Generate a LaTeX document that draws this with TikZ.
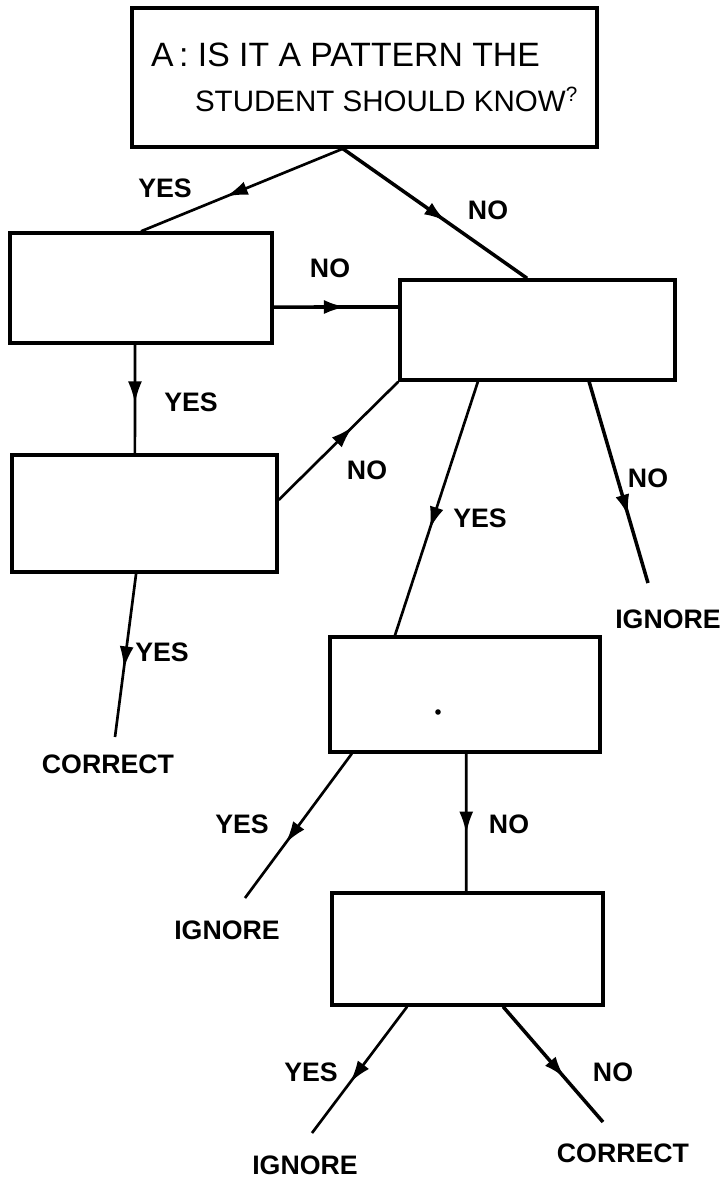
\documentclass[tikz,border=0pt]{standalone}
\usepackage{fontspec}
\setmainfont{Liberation Sans}
\usetikzlibrary{arrows.meta,decorations.markings}

\begin{document}
\begin{tikzpicture}[x=0.025cm, y=-0.025cm, color=black, line width=1.9pt,
      every node/.append style={inner sep=0pt, font=\fontsize{19}{21}\selectfont\bfseries},
      arrowat/.style={postaction={decorate}, decoration={markings,
        mark=at position #1 with {\arrow{Latex[length=5.5mm,width=3.5mm]}}}},
      heavy/.style={line width=2.5pt}]
      \tikzstyle{box} = [draw, rectangle, line width=2.4pt]
      \tikzstyle{answer} = []
      \tikzstyle{outcome} = []
      \useasboundingbox (0,0) rectangle (723,1178);
      \node (Pattern) [box, minimum width=11.625cm, minimum height=3.475cm, align=left,
        font=\fontsize{24}{32}\selectfont] at (364.5,77.5)
        {A\,:\ IS IT A PATTERN THE\\
         \hspace*{1.1cm}{\fontsize{21}{32}\selectfont STUDENT SHOULD KNOW\textsuperscript{?}}};
      \node (PatYes) [box, minimum width=6.55cm, minimum height=2.75cm] at (141,288) {};
      \node (PatNo) [box, minimum width=6.875cm, minimum height=2.5cm] at (537.5,330) {};
      \node (PatYesYes) [box, minimum width=6.625cm, minimum height=2.925cm] at (144.5,513.5) {};
      \node (PatNoYes) [box, minimum width=6.75cm, minimum height=2.875cm] at (465,694.5) {};
      \node (PatNoYesNo) [box, minimum width=6.775cm, minimum height=2.8cm] at (467.5,949) {};
      \node (Speck) [circle, fill, inner sep=1.4pt] at (438,712) {};
      \node (CorrectA) [outcome] at (108,764) {CORRECT};
      \node (IgnoreA) [outcome] at (668,619) {IGNORE};
      \node (IgnoreB) [outcome] at (227,930) {IGNORE};
      \node (IgnoreC) [outcome] at (305,1165) {IGNORE};
      \node (CorrectB) [outcome] at (623,1153) {CORRECT};
      \coordinate (CorrectAEnd) at (115,737);
      \coordinate (IgnoreAEnd) at (648,583);
      \coordinate (IgnoreBEnd) at (245,898);
      \coordinate (IgnoreCEnd) at (312,1133);
      \coordinate (CorrectBEnd) at (603,1122);
      \node (PatYesLbl) [answer] at (165,188) {YES};
      \node (PatNoLbl) [answer] at (488,210) {NO};
      \node (YesNoLbl) [answer] at (330,268) {NO};
      \node (YesYesLbl) [answer] at (191,402) {YES};
      \node (YesYesNoLbl) [answer] at (367,470) {NO};
      \node (NoYesLbl) [answer] at (480,518) {YES};
      \node (NoNoLbl) [answer] at (648,478) {NO};
      \node (YesYesYesLbl) [answer] at (162,652) {YES};
      \node (NoYesYesLbl) [answer] at (242,824) {YES};
      \node (NoYesNoLbl) [answer] at (509,824) {NO};
      \node (NoYesNoYesLbl) [answer] at (311,1072) {YES};
      \node (NoYesNoNoLbl) [answer] at (613,1072) {NO};
      \draw[arrowat=0.58] ([xshift=-0.54cm]Pattern.south) -- (PatYes.north);
      \draw[heavy, arrowat=0.56] ([xshift=-0.54cm]Pattern.south) -- ([xshift=-0.26cm]PatNo.north);
      \draw[heavy, arrowat=0.58] ([yshift=-0.475cm]PatYes.east) -- ([yshift=0.575cm]PatNo.west);
      \draw[arrowat=0.54] ([xshift=-0.15cm]PatYes.south) -- ([xshift=-0.24cm]PatYesYes.north);
      \draw[arrowat=0.62] ([yshift=0.34cm]PatYesYes.east) -- (PatNo.south west);
      \draw[arrowat=0.58] ([xshift=-1.49cm]PatNo.south) -- ([xshift=-1.75cm]PatNoYes.north);
      \draw[heavy, arrowat=0.67] ([xshift=1.29cm]PatNo.south) -- (IgnoreAEnd);
      \draw[arrowat=0.58] ([xshift=-0.21cm]PatYesYes.south) -- (CorrectAEnd);
      \draw[arrowat=0.62] ([xshift=-2.83cm]PatNoYes.south) -- (IgnoreBEnd);
      \draw[arrowat=0.58] ([xshift=0.03cm]PatNoYes.south) -- ([xshift=-0.03cm]PatNoYesNo.north);
      \draw[arrowat=0.6] ([xshift=-1.51cm]PatNoYesNo.south) -- (IgnoreCEnd);
      \draw[heavy, arrowat=0.62] ([xshift=0.89cm]PatNoYesNo.south) -- (CorrectBEnd);
\end{tikzpicture}
\end{document}
